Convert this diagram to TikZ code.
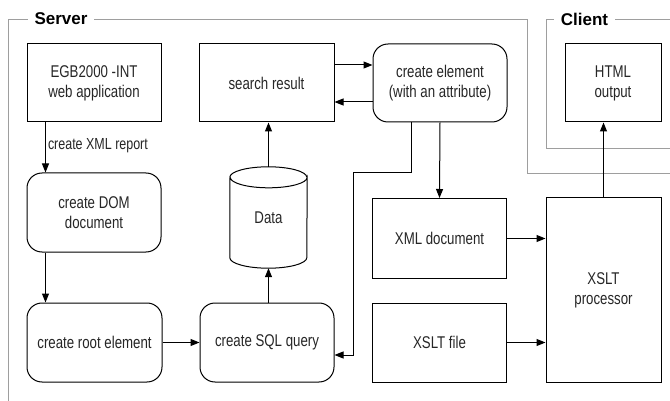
\documentclass[tikz,border=0pt]{standalone}
\usepackage{fontspec}
\setmainfont[FakeStretch=0.78]{Liberation Sans}
\newfontfamily\labfont{Liberation Sans}
\usetikzlibrary{arrows.meta,calc}
\begin{document}
\begin{tikzpicture}[x=1pt,y=-1pt,
  every node/.style={font=\fontsize{17}{20}\selectfont, text=black!85},
  box/.style={draw, line width=1pt, align=center, inner sep=0pt},
  rbox/.style={box, rounded corners=15pt},
  arr/.style={line width=1pt, -{Triangle[length=9pt,width=7pt]}},
  frame/.style={draw=black!38, line width=0.8pt},
  flabel/.style={fill=white, inner xsep=7pt, inner ysep=2pt, font=\labfont\bfseries\fontsize{17}{20}\selectfont, text=black}
]
\useasboundingbox (0,0) rectangle (670,401);

% frames
\draw[frame] (8,401) -- (8,19) -- (527,19) -- (527,173) -- (670,173);
\node[flabel] (server) at (61,19) {Server};
\draw[frame] (670,19) -- (546,19) -- (546,148) -- (670,148);
\node[flabel] (client) at (584.5,19) {Client};

% nodes
\node[box, minimum width=134pt, minimum height=78pt] (egb) at (94,83) {EGB2000 -INT\\web application};
\node[box, minimum width=135pt, minimum height=78pt] (search) at (266.5,83) {search result};
\node[rbox, minimum width=134pt, minimum height=78pt] (elem) at (440,83) {create element\\(with an attribute)};
\node[box, minimum width=96pt, minimum height=78pt] (html) at (613,83) {HTML\\output};
\node[rbox, minimum width=134pt, minimum height=79pt] (dom) at (94,212.5) {create DOM\\document};
\node[inner sep=0pt, minimum width=77pt, minimum height=101pt] (data) at (268.5,217.5) {Data};
\node[rbox, minimum width=135pt, minimum height=79pt] (root) at (94.5,342.5) {create root element};
\node[rbox, minimum width=134pt, minimum height=79pt] (sql) at (267,342.5) {create SQL query};
\node[box, minimum width=134pt, minimum height=80pt] (xml) at (439.5,238.5) {XML document};
\node[box, minimum width=134pt, minimum height=79pt] (xslt) at (439.5,342.5) {XSLT file};
\node[box, minimum width=115pt, minimum height=184pt] (proc) at (603.5,290) {XSLT\\processor};

% cylinder
\draw[line width=1pt]
  ($(data.north west)+(0,10.5)$) -- ($(data.south west)+(0,-10.5)$)
  arc[start angle=180, end angle=360, x radius=38.5pt, y radius=10.5pt]
  -- ($(data.north east)+(0,10.5)$)
  arc[start angle=0, end angle=-180, x radius=38.5pt, y radius=10.5pt];
\draw[line width=1pt] ($(data.north west)+(0,10.5)$)
  arc[start angle=180, end angle=0, x radius=38.5pt, y radius=10.5pt];

% connectors
\draw[arr] ([xshift=19pt]egb.south west) -- ([xshift=19pt]dom.north west)
  node[pos=0.47, right, inner sep=2pt, font=\fontsize{16}{19}\selectfont] {create XML report};
\draw[arr] ([xshift=19pt]dom.south west) -- ([xshift=19pt]root.north west);
\draw[arr] (root.east) -- (sql.west);
\draw[arr] (sql.north -| data.south) -- (data.south);
\draw[arr] (data.north) -- (search.south -| data.north);
\draw[arr] ([yshift=18pt]search.east) -- ([yshift=18pt]search.east -| elem.west);
\draw[arr] ([yshift=-19pt]elem.west) -- ([yshift=-19pt]elem.west -| search.east);
\draw[arr] (elem.south) -- (xml.north);
\coordinate (k1) at (353,173);
\draw[arr] ([xshift=-29pt]elem.south) |- (k1) |- ([yshift=-12.5pt]sql.east);
\draw[arr] (xml.east) -- (xml.east -| proc.west);
\draw[arr] (xslt.east) -- (xslt.east -| proc.west);
\draw[arr] (proc.north) -- (proc.north |- html.south);
\end{tikzpicture}
\end{document}
